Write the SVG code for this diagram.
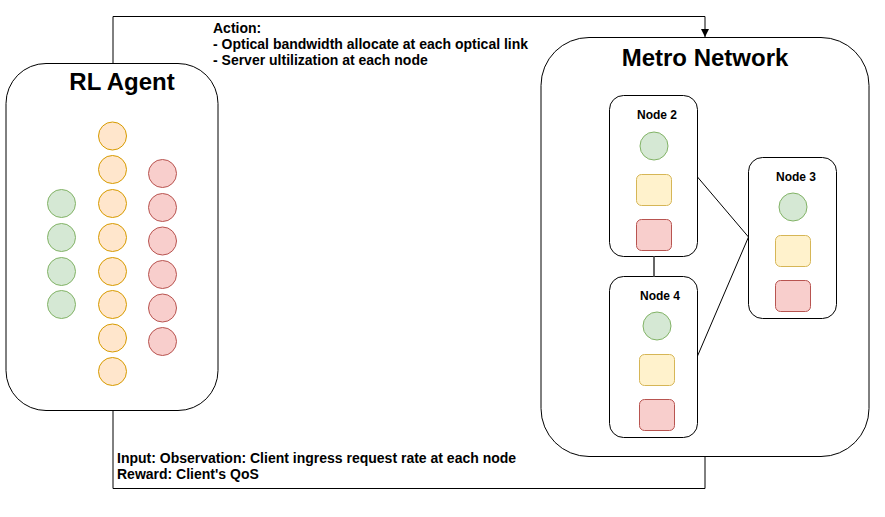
<svg xmlns="http://www.w3.org/2000/svg" width="885" height="517" viewBox="0 0 885 517">
<defs>
<style>
.box{fill:#fff;stroke:#000;stroke-width:1}
.g{fill:#d5e8d4;stroke:#82b366;stroke-width:1}
.o{fill:#ffe6cc;stroke:#d79b00;stroke-width:1}
.r{fill:#f8cecc;stroke:#b85450;stroke-width:1}
.y{fill:#fff2cc;stroke:#d6b656;stroke-width:1}
.t{font-family:"Liberation Sans",Arial,sans-serif;font-weight:bold;fill:#000}
.title{font-size:24px;text-anchor:middle}
.lbl{font-size:12px;text-anchor:middle}
.txt{font-size:14px}
.edge{fill:none;stroke:#000;stroke-width:1}
</style>
<marker id="arr" markerWidth="8" markerHeight="8" refX="8" refY="4" orient="auto" markerUnits="userSpaceOnUse">
<path d="M0,0 L8,4 L0,8 Z" fill="#000"/>
</marker>
</defs>
<rect width="885" height="517" fill="#fff"/>
<g id="rl-agent">
<rect class="box" x="6" y="63.5" width="212" height="347" rx="40" ry="40"/>
<text class="t title" x="122" y="90">RL Agent</text>
<circle class="g" cx="61.5" cy="203.5" r="14"/>
<circle class="g" cx="61.5" cy="237.5" r="14"/>
<circle class="g" cx="61.5" cy="271.5" r="14"/>
<circle class="g" cx="61.5" cy="304.5" r="14"/>
<circle class="o" cx="112.5" cy="136" r="14"/>
<circle class="o" cx="112.5" cy="169.5" r="14"/>
<circle class="o" cx="112.5" cy="203.5" r="14"/>
<circle class="o" cx="112.5" cy="237.5" r="14"/>
<circle class="o" cx="112.5" cy="271.5" r="14"/>
<circle class="o" cx="112.5" cy="304.5" r="14"/>
<circle class="o" cx="112.5" cy="338" r="14"/>
<circle class="o" cx="112.5" cy="371.5" r="14"/>
<circle class="r" cx="162.5" cy="173.5" r="14"/>
<circle class="r" cx="162.5" cy="207.5" r="14"/>
<circle class="r" cx="162.5" cy="241" r="14"/>
<circle class="r" cx="162.5" cy="274.5" r="14"/>
<circle class="r" cx="162.5" cy="308" r="14"/>
<circle class="r" cx="162.5" cy="341.5" r="14"/>
</g>
<g id="metro-network">
<rect class="box" x="541" y="37.5" width="328" height="419" rx="48" ry="48"/>
<text class="t title" x="705" y="66">Metro Network</text>
</g>
<g id="node2">
<rect class="box" x="609.5" y="95.5" width="88" height="161" rx="14" ry="14"/>
<text class="t lbl" x="657" y="119">Node 2</text>
<circle class="g" cx="654" cy="146" r="14"/>
<rect class="y" x="636.5" y="174.5" width="35" height="31" rx="5" ry="5"/>
<rect class="r" x="636.5" y="219.5" width="35" height="31" rx="5" ry="5"/>
</g>
<g id="node4">
<rect class="box" x="609.5" y="276.5" width="88" height="161" rx="14" ry="14"/>
<text class="t lbl" x="660" y="300">Node 4</text>
<circle class="g" cx="657" cy="326" r="14"/>
<rect class="y" x="639.5" y="354.5" width="35" height="31" rx="5" ry="5"/>
<rect class="r" x="639.5" y="399.5" width="35" height="31" rx="5" ry="5"/>
</g>
<g id="node3">
<rect class="box" x="748.5" y="157.5" width="88" height="161" rx="14" ry="14"/>
<text class="t lbl" x="796" y="181">Node 3</text>
<circle class="g" cx="793" cy="207" r="14"/>
<rect class="y" x="775.5" y="235.5" width="35" height="31" rx="5" ry="5"/>
<rect class="r" x="775.5" y="280.5" width="35" height="31" rx="5" ry="5"/>
</g>
<g id="connectors">
<path class="edge" d="M113,63 V16.5 H705 V37" marker-end="url(#arr)"/>
<path class="edge" d="M113,410 V488.5 H705 V456"/>
<line class="edge" x1="697.5" y1="177" x2="748.5" y2="237"/>
<line class="edge" x1="697.5" y1="356" x2="748.5" y2="237"/>
<line x1="654" y1="256.5" x2="654" y2="276.5" stroke="#666" stroke-width="2"/>
</g>
<g id="labels">
<text class="t txt" x="213" y="33">Action:</text>
<text class="t txt" x="213" y="49">- Optical bandwidth allocate at each optical link</text>
<text class="t txt" x="213" y="65">- Server ultilization at each node</text>
<text class="t txt" x="117" y="463">Input: Observation: Client ingress request rate at each node</text>
<text class="t txt" x="117" y="479">Reward: Client's QoS</text>
</g>
</svg>
